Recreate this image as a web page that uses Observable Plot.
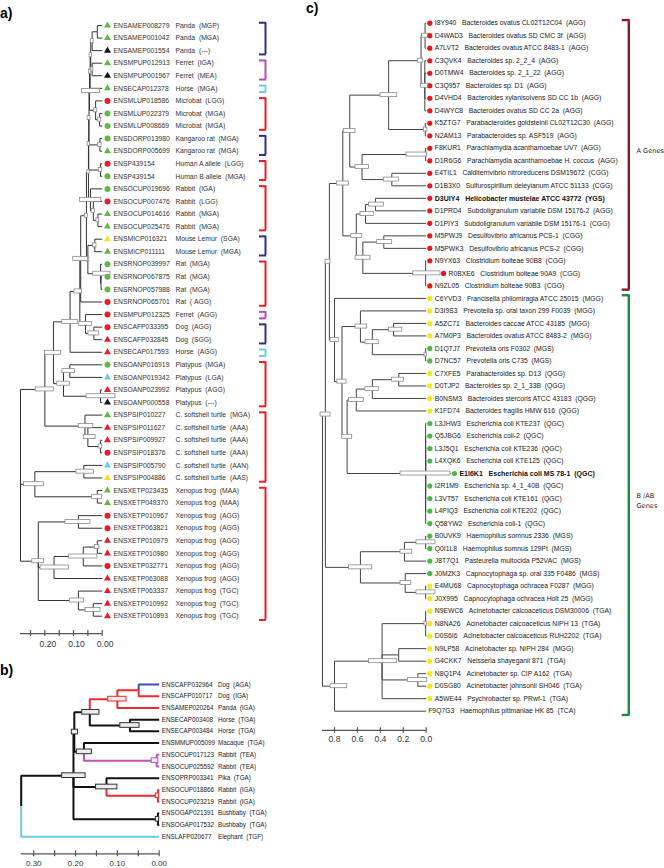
<!DOCTYPE html>
<html>
<head>
<meta charset="utf-8">
<script src="https://cdn.jsdelivr.net/npm/d3@7"></script>
<script src="https://cdn.jsdelivr.net/npm/@observablehq/plot@0.6"></script>
<style>
html,body{margin:0;padding:0;background:#fff;}
#fig{position:relative;width:664px;height:868px;overflow:hidden;background:#fff;}
#fig svg{position:absolute;left:0;top:0;background:transparent !important;overflow:visible;}
.lab{position:absolute;font:bold 14px/14px "Liberation Sans",Arial,sans-serif;color:#000;}
</style>
</head>
<body>
<div id="fig">
<div class="lab" style="left:0px;top:6px">a)</div>
<div class="lab" style="left:0px;top:663px">b)</div>
<div class="lab" style="left:306px;top:1px">c)</div>
</div>
<script>
// ================= DATA: panel a =================
const aIds = ["ENSAMEP008279","ENSAMEP001042","ENSAMEP001554","ENSMPUP012913","ENSMPUP001967","ENSECAP012378","ENSMLUP018586","ENSMLUP022379","ENSMLUP008669","ENSDORP013980","ENSDORP005699","ENSP439154","ENSP439154","ENSOCUP019696","ENSOCUP007476","ENSOCUP014616","ENSOCUP025476","ENSMICP016321","ENSMICP011111","ENSRNOP039997","ENSRNOP067875","ENSRNOP057988","ENSRNOP065701","ENSMPUP012325","ENSCAFP033395","ENSCAFP032845","ENSECAP017593","ENSOANP016919","ENSOANP019342","ENSOANP023992","ENSOANP000558","ENSPSIP010227","ENSPSIP011627","ENSPSIP009927","ENSPSIP018376","ENSPSIP005790","ENSPSIP004886","ENSXETP023435","ENSXETP049370","ENSXETP010967","ENSXETP063821","ENSXETP010979","ENSXETP010980","ENSXETP032771","ENSXETP063088","ENSXETP063337","ENSXETP010992","ENSXETP010993"];
const aSpecies = ["Panda","Panda","Panda","Ferret","Ferret","Horse","Microbat","Microbat","Microbat","Kangaroo rat","Kangaroo rat","Human A allele","Human B allele","Rabbit","Rabbit","Rabbit","Rabbit","Mouse Lemur","Mouse Lemur","Rat","Rat","Rat","Rat","Ferret","Dog","Dog","Horse","Platypus","Platypus","Platypus","Platypus","C. softshell turtle","C. softshell turtle","C. softshell turtle","C. softshell turtle","C. softshell turtle","C. softshell turtle","Xenopus frog","Xenopus frog","Xenopus frog","Xenopus frog","Xenopus frog","Xenopus frog","Xenopus frog","Xenopus frog","Xenopus frog","Xenopus frog","Xenopus frog"];
const aTypes = ["MGP","MGA","---","IGA","MEA","MGA","LGG","MGA","MGA","MGA","MGA","LGG","MGA","IGA","LGG","MGA","MGA","SGA","MGA","MGA","MGA","MGA","\u00a0AGG","AGG","AGG","SGG","AGG","MGA","LGA","AGG","---","MGA","AAA","AAA","AAA","AAN","AAS","MAA","MAA","AGG","AGG","AGG","AGG","AGG","AGG","TGC","TGC","TGC"];
const aShape = "tttttt ccc ct cc cctt tt cccc c ct t cttt tttctt ttccttctttt".replace(/ /g,"").split("");
const aColor = "ggkgkg rgg gg rg grgg yg gggr r rr r gcrk grrrcy ggrrrrrrrrr".replace(/ /g,"").split("");
const aGroups = [[0,2,"n"],[3,4,"m"],[5,5,"c"],[6,8,"r"],[9,10,"n"],[11,12,"r"],[13,16,"r"],[17,18,"n"],[19,22,"r"],[23,23,"m"],[24,25,"n"],[26,26,"c"],[27,30,"r"],[31,36,"r"],[37,47,"r"]];
const aTicks = [0,0.05,0.1,0.15,0.2,0.25];
const aTickValues = [0,0.1,0.2];
const aTickLabels = ["0.00","0.10","0.20"];
// topology: (children)nodeAge[boxLow~boxHigh]
const aP1 = "(((0,1)0.017,2)0.035[0.03~0.04],(3,4)0.035[0.031~0.039])0.04[0.036~0.044]";
const aP2 = `(${aP1},5)0.042[0.038~0.046]`;
const aM = "(6,(7,8)0.009[0.004~0.014])0.023[0.017~0.029]";
const aP3 = `(${aP2},${aM})0.044[0.007~0.07]`;
const aS1 = `(${aP3},(9,10)0.008[0.002~0.014])0.046[0.041~0.051]`;
const aS2 = `(${aS1},(11,12)0.006[0~0.012])0.047[0.043~0.051]`;
const aR = "(13,(14,(15,16)0.015[0.01~0.02])0.031[0.025~0.037])0.041[0.003~0.078]";
const aS3 = `(${aS2},${aR})0.048[0.044~0.052]`;
const aMR = "((17,18)0.026[0.02~0.032],(19,(20,21)0.004)0.006[-0.029~0.031])0.05[0.045~0.055]";
const aS4 = `(${aS3},${aMR})0.055[0.05~0.06]`;
const aT = `(${aS4},22)0.075[0.05~0.101]`;
const aFD = "(23,(24,25)0.029[0.01~0.048])0.058[0.036~0.08]";
const aN2 = `(${aT},${aFD})0.078[0.07~0.097]`;
const aN1 = `(${aN2},26)0.112[0.085~0.139]`;
const aPlat = "((27,28)0.113[0.095~0.139],(29,30)0.006[-0.046~0.055])0.135[0.113~0.157]";
const aN0 = `(${aN1},${aPlat})0.17[0.143~0.2]`;
const aTur = "(31,(32,(33,34)0.006[0~0.012])0.05[0.023~0.064])0.06[0.031~0.082]";
const aA1 = `(${aN0},${aTur})0.2[0.169~0.232]`;
const aB = "((35,36)0.064[0.029~0.09],(37,38)0.017[0~0.035])0.235[0.203~0.273]";
const aX = "((39,40)0.083[0.041~0.128],(((41,42)0.017[0.01~0.025],43)0.066[0.017~0.116],44)0.168[0.116~0.215],(45,(46,47)0.031[0.006~0.058])0.083[0.064~0.113])0.223[0.203~0.244]";
const aTree = `(${aA1},${aB},${aX})0.285`;

// ================= DATA: panel b =================
const bIds = ["ENSCAFP032964","ENSCAFP010717","ENSAMEP020264","ENSECAP003408","ENSECAP003484","ENSMMUP005099","ENSOCUP017123","ENSOCUP025592","ENSOPRP003341","ENSOCUP018866","ENSOCUP023219","ENSOGAP021391","ENSOGAP017532","ENSLAFP020677"];
const bSpecies = ["Dog","Dog","Panda","Horse","Horse","Macaque","Rabbit","Rabbit","Pika","Rabbit","Rabbit","Bushbaby","Bushbaby","Elephant"];
const bTypes = ["AGA","IGA","IGA","TGA","TGA","TGA","TEA","TEA","TGA","IGA","IGA","TGA","TGA","TGF"];
const bTicks = [0,0.05,0.1,0.15,0.2,0.25,0.3];
const bTickValues = [0,0.1,0.2,0.3];
const bTickLabels = ["0.00","0.10","0.20","0.30"];
// {x} = branch colour code
const bTree = "((((((0{b},1{r})0.049{r},2{r})0.1[0.078~0.122]{r},(3,4)0.07[0.047~0.093])0.166[0.143~0.184],(5,(6{m},7{m})0.006[0.002~0.018]{m})0.18[0.161~0.197])0.203[0.194~0.209],(8,(9{r},10{r})0.003[0~0.008]{r})0.126[0.1~0.151],(11,12)0.003[0~0.008])0.205[0.176~0.232],13{c})0.33";

// ================= DATA: panel c =================
const cIds = ["I8Y940","D4WAD3","A7LVT2","C3QVK4","D0TMW4","C3Q957","D4VHD4","D4WYC8","K5ZTG7","N2AM13","F8KUR1","D1R6G6","E4TIL1","D1B3X0","D3UIY4","D1PRD4","D1PIY3","M5PWJ9","M5PWK3","N9YX63","R0BXE6","N9ZL05","C6YVD3","D3I9S3","A5ZC71","A7M0P3","D1QTJ7","D7NC57","C7XFE5","D0TJP2","B0NSM3","K1FD74","L3JHW3","Q5JBG6","L3J5Q1","L4XQK6","E1I6K1","I2R1M9","L3VT57","L4PIQ3","Q58YW2","B0UVK9","Q0I1L8","J8T7Q1","J0MZK3","E4MU68","J0X995","N9EWC6","N8NA26","D0S6I6","N9LP58","G4CKK7","N8Q1P4","D0SG80","A5WE44","F9Q7G3"];
const cNames = ["Bacteroides ovatus CL02T12C04","Bacteroides ovatus SD CMC 3f","Bacteroides ovatus ATCC 8483-1","Bacteroides sp. 2_2_4","Bacteroides sp. 2_1_22","Bacteroides sp. D1","Bacteroides xylanisolvens SD CC 1b","Bacteroides ovatus SD CC 2a","Parabacteroides goldsteinii CL02T12C30","Parabacteroides sp. ASF519","Parachlamydia acanthamoebae UV7","Parachlamydia acanthamoebae H. coccus","Calditerrivibrio nitroreducens DSM19672","Sulfurospirillum deleyianum ATCC 51133","Helicobacter mustelae ATCC 43772","Subdoligranulum variabile DSM 15176-2","Subdoligranulum variabile DSM 15176-1","Desulfovibrio africanus PCS-1","Desulfovibrio africanus PCS-2","Clostridium bolteae 90B8","Clostridium bolteae 90A9","Clostridium bolteae 90B3","Francisella philomiragia ATCC 25015","Prevotella sp. oral taxon 299 F0039","Bacteroides caccae ATCC 43185","Bacteroides ovatus ATCC 8483-2","Prevotella oris F0302","Prevotella oris C735","Parabacteroides sp. D13","Bacteroides sp. 2_1_33B","Bacteroides stercoris ATCC 43183","Bacteroides fragilis HMW 616","Escherichia coli KTE237","Escherichia coli-2","Escherichia coli KTE236","Escherichia coli KTE125","Escherichia coli MS 78-1","Escherichia sp. 4_1_40B","Escherichia coli KTE161","Escherichia coli KTE202","Escherichia coli-1","Haemophilus somnus 2336","Haemophilus somnus 129Pt","Pasteurella multocida P52VAC","Capnocytophaga sp. oral 335 F0486","Capnocytophaga ochracea F0287","Capnocytophaga ochracea Holt 25","Acinetobacter calcoaceticus DSM30006","Acinetobacter calcoaceticus NIPH 13","Acinetobacter calcoaceticus RUH2202","Acinetobacter sp. NIPH 284","Neisseria shayeganii 871","Acinetobacter sp. CIP A162","Acinetobacter johnsonii SH046","Psychrobacter sp. PRwf-1","Haemophilus pittmaniae HK 85"];
const cTypes = ["AGG","AGG","AGG","AGG","AGG","AGG","AGG","AGG","AGG","AGG","AGG","AGG","CGG","CGG","YGS","AGG","CGG","CGG","CGG","CGG","CGG","CGG","MGG","MGG","MGG","MGG","MGS","MGS","QGG","QGG","QGG","QGG","QGC","QGC","QGC","QGC","QGC","QGC","QGC","QGC","QGC","MGS","MGS","MGS","MGS","MGG","MGG","TGA","TGA","TGA","MGG","TGA","TGA","TGA","TGA","TCA"];
const cColor = "rrrrrrrrrr rrrrrrrrrr rr yyyy gg yyyy ggggggggg gggg yy yyyyyyyy -".replace(/ /g,"").split("");
const cBold = [14,36];
const cGroups = [[0,21,"A Genes","a"],[22,55,"B /AB\nGenes","b"]];
const cTicks = [0,0.2,0.4,0.6,0.8];
const cTickLabels = ["0.0","0.2","0.4","0.6","0.8"];
const cTop0 = "(((0,1,2)0.01[-0.023~0.035],(3,4,5,6,7)0.012[-0.037~0.044])0.045[0.026~0.073],(8,9)0.008[-0.01~0.02])0.328[0.253~0.399]";
const cTop = `(${cTop0},((10,11)0.005[-0.009~0.172],(12,13)0.3[0.239~0.37])0.56[0.5~0.617])0.667[0.617~0.719]`;
const cLow = "(((14,15)0.443[0.37~0.5],16)0.53[0.457~0.573],((17,18)0.37[0.297~0.428],(19,20@-0.12,21)0.005[-0.125~0.113])0.553[0.486~0.617])0.61[0.558~0.654]";
const cA = `(${cTop},${cLow})0.728[0.675~0.777]`;
const cBsub = "(23,((24,25)0.285[0.209~0.326],(26,27)0.005[-0.005~0.015])0.47[0.414~0.53])0.574[0.515~0.617]";
const cQ = "((((28,29)0.24[0.195~0.297],30)0.47[0.414~0.53],31)0.61[0.545~0.675],(32,33,34,35,36@-0.215,37,38,39,40)0.005[-0.212~0.224])0.69[0.646~0.733]";
const cB1 = `(22,(${cBsub},${cQ})0.735[0.695~0.776])0.8[0.763~0.835]`;
const cX1 = `(${cA},${cB1})0.845[0.835~0.879]`;
const cH = "(((41,42)0.005[-0.081~0.085],43)0.19[0.122~0.224],(44,(45,46)0.005[-0.081~0.085])0.183[0.131~0.224])0.574[0.471~0.675]";
const cX2 = `(${cX1},${cH})0.88[0.835~0.922]`;
const cAc = "((47,48,49)0.005[-0.005~0.015],(50,51)0.24,(52,53)0.073[-0.009~0.16],54)0.385[0.253~0.5]";
const cAC = `(${cAc},55)0.8[0.689~0.835]`;
const cTree = `(${cX2},${cAC})0.905`;

// ================= helpers =================
const FONT = "'Liberation Sans', Arial, Helvetica, sans-serif";
function parseTree(s) {
  let i = 0;
  const num = () => { const m = /^-?\d*\.?\d+/.exec(s.slice(i)); i += m[0].length; return +m[0]; };
  function node() {
    let n;
    if (s[i] === "(") {
      i++;
      const children = [node()];
      while (s[i] === ",") { i++; children.push(node()); }
      i++;
      n = {children, age: num()};
      if (s[i] === "[") { i++; const lo = num(); i++; const hi = num(); i++; n.box = [lo, hi]; }
    } else {
      n = {leaf: num(), age: 0};
      if (s[i] === "@") { i++; n.age = num(); }
    }
    if (s[i] === "{") { n.col = s[i + 1]; i += 3; }
    return n;
  }
  return node();
}
function layout(root) {
  const edges = [], nodes = [], tips = {};
  (function walk(n) {
    if (n.children) {
      n.children.forEach(walk);
      n.y = (n.children[0].y + n.children[n.children.length - 1].y) / 2;
      for (const c of n.children) edges.push({x1: n.age, y1: n.y, x2: c.age, y2: c.y, col: c.col || "k"});
      nodes.push(n);
    } else { n.y = n.leaf; tips[n.leaf] = n.age; }
  })(root);
  return {root, edges, nodes, tips};
}
function axisMarks(rootAge, row, ticks, vals, labels, o) {
  return [
    Plot.ruleY([row], {x1: rootAge, x2: 0, stroke: "#555", strokeWidth: 1.3}),
    Plot.ruleX(ticks, {x: d => d, y1: row - o.th, y2: row + o.th, stroke: "#555", strokeWidth: 1.2}),
    Plot.text(vals, {x: d => d, y: row, dy: o.dy, dx: o.dx || 0, text: (d, i) => labels[i], fontSize: o.fs, fill: "#333"})
  ];
}
const fig = document.getElementById("fig");
const nb = "\u00a0";

// ================= panel a =================
{
  const pal = {g: "#62b847", r: "#ec1c24", k: "#111111", y: "#f5e31c", c: "#6fcbe2", n: "#2d3182", m: "#b54db5"};
  const T = layout(parseTree(aTree));
  const leaves = aIds.map((id, i) => ({i, id, sp: aSpecies[i], ty: aTypes[i], shape: aShape[i], col: aColor[i], age: T.tips[i]}));
  const rootAge = T.root.age;
  const axisRow = 48.38;
  const svg = Plot.plot({
    width: 300, height: 650, margin: 0,
    x: {domain: [rootAge, 0], range: [20, 101.7], axis: null},
    y: {domain: [0, 47], range: [25, 615.7], axis: null},
    r: {type: "identity"}, color: {type: "identity"},
    style: {background: "transparent", overflow: "visible", fontFamily: FONT},
    marks: [
      Plot.link(T.edges, {x1: "x1", y1: "y1", x2: "x2", y2: "y2", curve: "step-before", stroke: "#333", strokeWidth: 1}),
      Plot.rect(T.nodes.filter(n => n.box), {x1: n => n.box[0], x2: n => n.box[1], y1: n => n.y - 0.16, y2: n => n.y + 0.16, fill: "white", stroke: "#8a8a8a", strokeWidth: 0.8}),
      Plot.dot(leaves, {x: "age", y: "i", dx: 5.3, symbol: d => d.shape === "t" ? "triangle" : "circle", r: d => d.shape === "t" ? 2.6 : 3.0, fill: d => pal[d.col], stroke: "none"}),
      Plot.text(leaves, {x: "age", y: "i", dx: 11.3, text: "id", textAnchor: "start", fontSize: 6.8, fill: "#333"}),
      Plot.text(leaves, {x: "age", y: "i", dx: 73.3, text: d => `${d.sp}${nb}${nb}(${d.ty})`, textAnchor: "start", fontSize: 6.8, fill: "#333"}),
      Plot.ruleX(aGroups, {x: 0, y1: d => d[0] - 0.22, y2: d => d[1] + 0.3, dx: 163.3, stroke: d => pal[d[2]], strokeWidth: 2}),
      Plot.ruleY(aGroups, {y: d => d[0] - 0.22, x1: 0, x2: 0, insetLeft: 157.3, insetRight: -164.3, stroke: d => pal[d[2]], strokeWidth: 2}),
      Plot.ruleY(aGroups, {y: d => d[1] + 0.3, x1: 0, x2: 0, insetLeft: 157.3, insetRight: -164.3, stroke: d => pal[d[2]], strokeWidth: 2}),
      ...axisMarks(rootAge, axisRow, aTicks, aTickValues, aTickLabels, {th: 0.24, dy: 10.5, dx: 3, fs: 8.6})
    ]
  });
  fig.appendChild(svg);
}

// ================= panel b =================
{
  const pal = {k: "#111111", r: "#ef2b2d", b: "#3d4fb5", m: "#c052c0", c: "#6dcbe4"};
  const T = layout(parseTree(bTree));
  const leaves = bIds.map((id, i) => ({i, id, sp: bSpecies[i], ty: bTypes[i], age: T.tips[i]}));
  const rootAge = T.root.age;
  const axisRow = 14.45;
  const svg = Plot.plot({
    width: 300, height: 868, margin: 0,
    x: {domain: [rootAge, 0], range: [20.7, 158.7], axis: null},
    y: {domain: [0, 13], range: [684, 836.3], axis: null},
    color: {type: "identity"},
    style: {background: "transparent", overflow: "visible", fontFamily: FONT},
    marks: [
      Plot.link(T.edges, {x1: "x1", y1: "y1", x2: "x2", y2: "y2", curve: "step-before", stroke: d => pal[d.col], strokeWidth: 2}),
      Plot.rect(T.nodes.filter(n => n.box), {x1: n => n.box[0], x2: n => n.box[1], y1: n => n.y - 0.2, y2: n => n.y + 0.2, fill: "#ececec", stroke: n => n.col ? pal[n.col] : "#333", strokeWidth: 1}),
      Plot.text(leaves, {x: "age", y: "i", dx: 2.6, text: "id", textAnchor: "start", fontSize: 6.3, fill: "#222"}),
      Plot.text(leaves, {x: "age", y: "i", dx: 58.8, text: d => `${d.sp}${nb}${nb}(${d.ty})`, textAnchor: "start", fontSize: 6.3, fill: "#222"}),
      ...axisMarks(rootAge, axisRow, bTicks, bTickValues, bTickLabels, {th: 0.26, dy: 9.4, fs: 8})
    ]
  });
  fig.appendChild(svg);
}

// ================= panel c =================
{
  const pal = {r: "#e8161d", y: "#f3e81a", g: "#4db848"};
  const grp = {a: "#8c1c20", b: "#1c8c3c"};
  const T = layout(parseTree(cTree));
  const leaves = cIds.map((id, i) => ({i, id, col: cColor[i], age: T.tips[i], bold: cBold.includes(i),
    label: `${id}${nb}${nb}${nb}${cNames[i]}${nb}${nb}(${cTypes[i]})`}));
  const rootAge = T.root.age;
  const axisRow = 56.54;
  const svg = Plot.plot({
    width: 664, height: 760, margin: 0,
    x: {domain: [rootAge, 0], range: [322, 425.7], axis: null},
    y: {domain: [0, 55], range: [22.7, 710.7], axis: null},
    color: {type: "identity"},
    style: {background: "transparent", overflow: "visible", fontFamily: FONT},
    marks: [
      Plot.link(T.edges, {x1: "x1", y1: "y1", x2: "x2", y2: "y2", curve: "step-before", stroke: "#444", strokeWidth: 1}),
      Plot.rect(T.nodes.filter(n => n.box), {x1: n => n.box[0], x2: n => n.box[1], y1: n => n.y - 0.16, y2: n => n.y + 0.16, fill: "white", stroke: "#8a8a8a", strokeWidth: 0.8}),
      Plot.dot(leaves.filter(d => d.col !== "-"), {x: "age", y: "i", dx: 3.6, r: 2.6, fill: d => pal[d.col], stroke: "none"}),
      Plot.text(leaves, {filter: d => d.col !== "-" && !d.bold, x: "age", y: "i", dx: 8.6, text: "label", textAnchor: "start", fontSize: 6.8, fill: "#222"}),
      Plot.text(leaves, {filter: d => d.col !== "-" && d.bold, x: "age", y: "i", dx: 8.6, text: "label", textAnchor: "start", fontSize: 7.0, fontWeight: "bold", fill: "#111"}),
      Plot.text(leaves, {filter: d => d.col === "-", x: "age", y: "i", dx: 2, text: "label", textAnchor: "start", fontSize: 6.8, fill: "#222"}),
      Plot.ruleX(cGroups, {x: 0, y1: d => d[0] - 0.25, y2: d => d[1] + 0.3, dx: 202.6, stroke: d => grp[d[3]], strokeWidth: 2.4}),
      Plot.ruleY(cGroups, {y: d => d[0] - 0.25, x1: 0, x2: 0, insetLeft: 196, insetRight: -203.8, stroke: d => grp[d[3]], strokeWidth: 2.4}),
      Plot.ruleY(cGroups, {y: d => d[1] + 0.3, x1: 0, x2: 0, insetLeft: 196, insetRight: -203.8, stroke: d => grp[d[3]], strokeWidth: 2.4}),
      Plot.text(cGroups, {x: 0, y: d => (d[0] + d[1]) / 2, dx: 210.3, dy: -5, text: d => d[2], textAnchor: "start", fontSize: 6.6, fontFamily: "DejaVu Sans, sans-serif", fill: "#222", lineHeight: 1.6}),
      ...axisMarks(rootAge, axisRow, cTicks, cTicks, cTickLabels, {th: 0.22, dy: 8.5, fs: 8.6})
    ]
  });
  fig.appendChild(svg);
}
</script>
</body>
</html>
